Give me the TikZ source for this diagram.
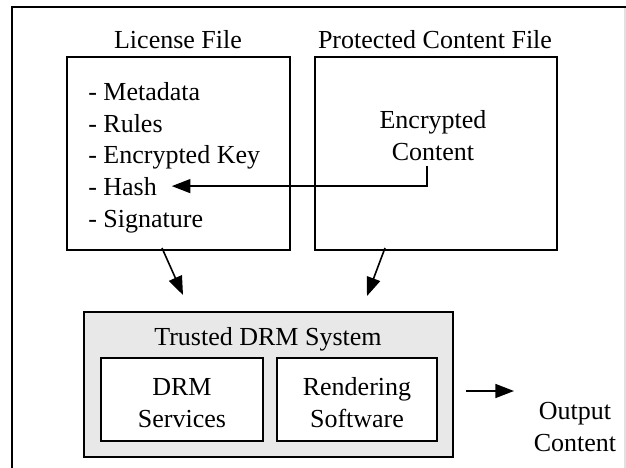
\documentclass[tikz,border=0pt]{standalone}
\usepackage{fontspec}
\setmainfont{Liberation Serif}
\usetikzlibrary{arrows.meta,calc}
\definecolor{trgray}{RGB}{232,232,232}
\definecolor{edgegray}{RGB}{225,225,225}
\begin{document}
\begin{tikzpicture}[x=0.75pt,y=-0.75pt,
  every node/.style={font=\fontsize{19.5}{24}\selectfont},
  box/.style={draw,line width=1.5pt,inner sep=0pt,outer sep=0pt},
  item/.style={anchor=base west,inner sep=0pt},
  arr/.style={line width=1.2pt,-{Triangle[length=14pt,width=10.5pt]}}]
\useasboundingbox (0,0) rectangle (626,468);
% outer frame
\draw[line width=1.5pt] (12,472) -- (12,7) -- (628,7);
\draw[line width=0.8pt,edgegray] (625,8) -- (625,472);
% top boxes
\node[box,minimum width=167.25pt,minimum height=144.75pt] (lic) at (178.5,153.5) {};
\node[box,minimum width=181.5pt,minimum height=144.75pt] (prot) at (436,153.5) {};
\node[anchor=base] (lictitle) at (178,48) {License File};
\node[anchor=base] (prottitle) at (435,48) {Protected Content File};
\node[item] (i1) at (88,100) {- Metadata};
\node[item] (i2) at (88,132) {- Rules};
\node[item] (i3) at (88,163) {- Encrypted Key};
\node[item] (hash) at (88,195) {- Hash};
\node[item] (i5) at (88,227) {- Signature};
\node[align=center] (enc) at (433,136) {Encrypted\\Content};
% trusted system
\node[box,fill=trgray,minimum width=276.75pt,minimum height=108.75pt] (trust) at (268.5,384.5) {};
\node[anchor=base] (trtitle) at (268,345) {Trusted DRM System};
\node[box,fill=white,minimum width=121.5pt,minimum height=62.25pt] (drm) at (182,399.5) {};
\node[box,fill=white,minimum width=120pt,minimum height=62.25pt] (rend) at (357,399.5) {};
\node[align=center] (drmtxt) at (182,403.5) {DRM\\Services};
\node[align=center] (rendtxt) at (357,403) {Rendering\\Software};
\node[align=center] (out) at (575,427) {Output\\Content};
\coordinate (outtip) at (514,391);
% connectors
\draw[arr] ([xshift=-4.5pt]enc.south) |- ([xshift=11pt]hash.east);
\draw[arr] ($(lic.south)+(-16.5,-2)$) -- ($(trust.north)+(-85.5,-17)$);
\draw[arr] ($(prot.south)+(-51,-2)$) -- ($(trust.north)+(98.5,-16)$);
\draw[arr] ($(trust.east)+(13,6.5)$) -- (outtip);
\end{tikzpicture}
\end{document}
